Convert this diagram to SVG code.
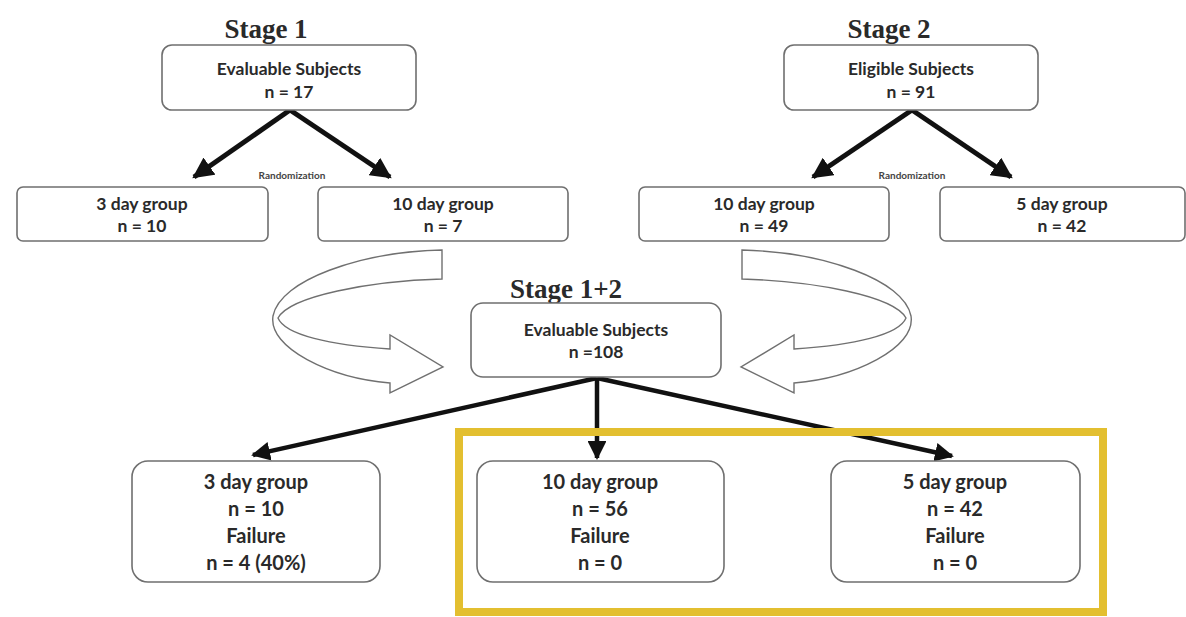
<svg xmlns="http://www.w3.org/2000/svg" width="1186" height="617" viewBox="0 0 1186 617">
<style>
.box{fill:#fff;stroke:#6f6f6f;stroke-width:1.6}
.t{font-family:Lato,"Open Sans","Liberation Sans",sans-serif;font-weight:bold;fill:#2a2a2a;text-anchor:middle}
.m{font-size:17.5px}
.b{font-size:20px}
.stage{font-family:"Liberation Serif",serif;font-weight:bold;font-size:27px;fill:#2a2a2a;text-anchor:middle}
.rand{font-family:Lato,"Liberation Sans",sans-serif;font-weight:bold;font-size:10px;fill:#444;text-anchor:middle}
.arr{stroke:#111;fill:none;stroke-width:5}
.arr2{stroke:#111;fill:none;stroke-width:4.5}
.curve{fill:#fff;stroke:#707070;stroke-width:1.4}
</style>
<defs>
<marker id="ah" viewBox="0 0 10 10" refX="9" refY="5" markerWidth="4.2" markerHeight="4.2" orient="auto" markerUnits="strokeWidth">
<path d="M0,0 L10,5 L0,10 z" fill="#111"/>
</marker>
</defs>
<rect width="1186" height="617" fill="#fff"/>
<text class="stage" x="266" y="38">Stage 1</text>
<text class="stage" x="889" y="38">Stage 2</text>
<text class="stage" x="566" y="298">Stage 1+2</text>
<g id="connectors">
<line class="arr" x1="290" y1="110" x2="194" y2="177" marker-end="url(#ah)"/>
<line class="arr" x1="290" y1="110" x2="390" y2="177" marker-end="url(#ah)"/>
<line class="arr" x1="912" y1="110" x2="813" y2="177" marker-end="url(#ah)"/>
<line class="arr" x1="912" y1="110" x2="1011" y2="177" marker-end="url(#ah)"/>
<line class="arr2" x1="597" y1="378" x2="253" y2="455" marker-end="url(#ah)"/>
<line class="arr2" x1="597" y1="378" x2="597" y2="458" marker-end="url(#ah)"/>
<line class="arr2" x1="597" y1="378" x2="952" y2="456" marker-end="url(#ah)"/>
<text class="rand" x="292" y="179">Randomization</text>
<text class="rand" x="912" y="179">Randomization</text>
<path id="curveL" class="curve" d="M442,250 C360,252 280,280 273,316 C268,348 330,378 390,383 L390,393 L443,367 L390,335 L390,349 C330,345 285,335 278,318 C290,296 370,281 442,279 Z"/>
<path id="curveR" class="curve" transform="translate(1184,0) scale(-1,1)" d="M442,250 C360,252 280,280 273,316 C268,348 330,378 390,383 L390,393 L443,367 L390,335 L390,349 C330,345 285,335 278,318 C290,296 370,281 442,279 Z"/>
</g>
<g id="n-eval1"><rect class="box" x="162" y="45" width="254" height="65" rx="10"/><text class="t m" x="289" y="75">Evaluable Subjects</text><text class="t m" x="289" y="98">n = 17</text></g>
<g id="n-elig2"><rect class="box" x="784" y="45" width="254" height="65" rx="10"/><text class="t m" x="911" y="75">Eligible Subjects</text><text class="t m" x="911" y="98">n = 91</text></g>
<g id="n-s1-3day"><rect class="box" x="17" y="187" width="251" height="54" rx="6"/><text class="t m" x="142" y="210">3 day group</text><text class="t m" x="142" y="232">n = 10</text></g>
<g id="n-s1-10day"><rect class="box" x="318" y="187" width="250" height="54" rx="6"/><text class="t m" x="443" y="210">10 day group</text><text class="t m" x="443" y="232">n = 7</text></g>
<g id="n-s2-10day"><rect class="box" x="639" y="187" width="250" height="54" rx="6"/><text class="t m" x="764" y="210">10 day group</text><text class="t m" x="764" y="232">n = 49</text></g>
<g id="n-s2-5day"><rect class="box" x="940" y="187" width="245" height="54" rx="6"/><text class="t m" x="1062" y="210">5 day group</text><text class="t m" x="1062" y="232">n = 42</text></g>
<g id="n-eval12"><rect class="box" x="471" y="303" width="250" height="74" rx="12"/><text class="t m" x="596" y="336">Evaluable Subjects</text><text class="t m" x="596" y="358">n =108</text></g>
<g id="highlight"><rect x="459" y="432" width="644" height="180" fill="none" stroke="#E3BF30" stroke-width="8"/></g>
<g id="n-3day"><rect class="box" x="132" y="461" width="248" height="121" rx="16"/><text class="t b" x="256" y="489">3 day group</text><text class="t b" x="256" y="516">n = 10</text><text class="t b" x="256" y="543">Failure</text><text class="t b" x="256" y="570">n = 4 (40%)</text></g>
<g id="n-10day"><rect class="box" x="477" y="461" width="247" height="121" rx="16"/><text class="t b" x="600" y="489">10 day group</text><text class="t b" x="600" y="516">n = 56</text><text class="t b" x="600" y="543">Failure</text><text class="t b" x="600" y="570">n = 0</text></g>
<g id="n-5day"><rect class="box" x="831" y="461" width="249" height="121" rx="16"/><text class="t b" x="955" y="489">5 day group</text><text class="t b" x="955" y="516">n = 42</text><text class="t b" x="955" y="543">Failure</text><text class="t b" x="955" y="570">n = 0</text></g>
</svg>
